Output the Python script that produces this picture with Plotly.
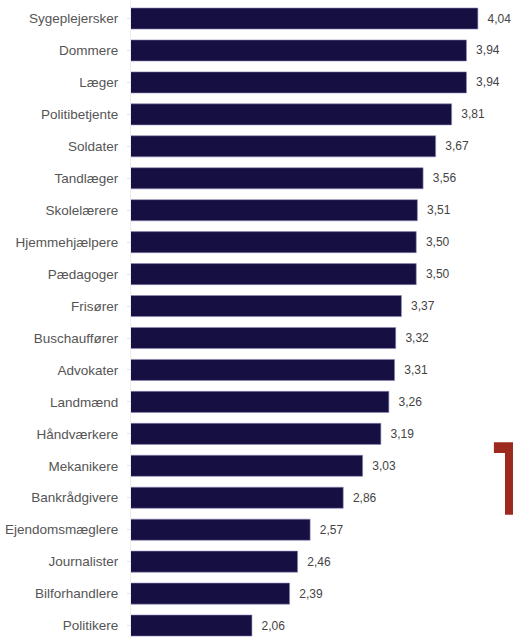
import plotly.graph_objects as go

categories = ["Sygeplejersker", "Dommere", "Læger", "Politibetjente", "Soldater",
              "Tandlæger", "Skolelærere", "Hjemmehjælpere", "Pædagoger", "Frisører",
              "Buschauffører", "Advokater", "Landmænd", "Håndværkere", "Mekanikere",
              "Bankrådgivere", "Ejendomsmæglere", "Journalister", "Bilforhandlere", "Politikere"]
values = [4.04, 3.94, 3.94, 3.81, 3.67, 3.56, 3.51, 3.50, 3.50, 3.37,
          3.32, 3.31, 3.26, 3.19, 3.03, 2.86, 2.57, 2.46, 2.39, 2.06]

fig = go.Figure(go.Bar(
    x=values, y=categories, orientation="h",
    marker=dict(color="#150f42", line=dict(color="#8e8ab8", width=0.6)),
    texttemplate="\u00a0\u00a0%{x:.2f}", textposition="outside",
    textfont=dict(family="Liberation Sans, Arial, sans-serif", size=12, color="#444444"),
    cliponaxis=False,
    hoverinfo="skip",
))

fig.update_layout(
    width=513, height=638,
    margin=dict(l=131, r=0, t=0, b=0, autoexpand=False),
    paper_bgcolor="white", plot_bgcolor="white",
    separators=",.",
    bargap=0.34,
    showlegend=False,
    font=dict(family="Liberation Sans, Arial, sans-serif", size=12, color="#555555"),
    xaxis=dict(range=[1, 4.348], visible=False, fixedrange=True),
    yaxis=dict(autorange=False, range=[19.39, -0.58], categoryorder="array",
               categoryarray=categories, showgrid=False, zeroline=False,
               showline=True, linecolor="#ececec", linewidth=1,
               ticks="outside", tickcolor="#e4e4e4", ticklen=3,
               ticklabelstandoff=6, automargin=False, fixedrange=True,
               tickfont=dict(size=13.5, color="#555555")),
    shapes=[dict(type="path", xref="paper", yref="paper",
                 path="M 0.950 0.307 L 1.0 0.307 L 1.0 0.193 L 0.979 0.193 L 0.979 0.290 L 0.950 0.290 Z",
                 fillcolor="#9c2a1e", line=dict(width=0))],
)

fig.write_html("out.html", config={"displayModeBar": False, "staticPlot": True},
               post_script="document.body.style.margin='0px';document.body.style.overflow='hidden';")
